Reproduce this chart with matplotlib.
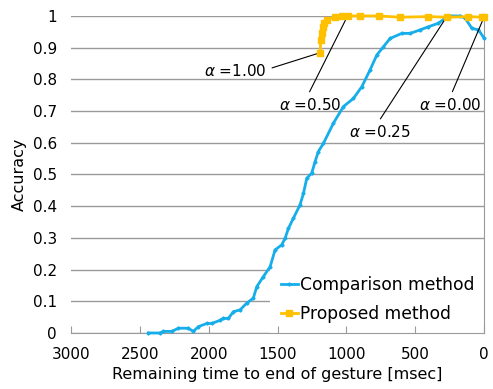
import numpy as np
import matplotlib
matplotlib.use('Agg')
import matplotlib.pyplot as plt

# comparison method (blue), remaining time [msec] vs accuracy
comp_t   = [2438, 2353, 2329, 2268, 2220, 2148, 2112, 2075, 2014, 1978, 1918, 1894,
            1857, 1821, 1772, 1724, 1676, 1651, 1603, 1554, 1518, 1470, 1445, 1421,
            1385, 1337, 1312, 1288, 1252, 1228, 1204, 1167, 1094, 1022, 949, 888,
            828, 779, 731, 683, 598, 537, 465, 404, 332, 283, 247, 174, 138, 89, 41, 0]
comp_acc = [0, 0, 0.005, 0.005, 0.015, 0.015, 0.005, 0.02, 0.03, 0.03, 0.04, 0.046,
            0.046, 0.067, 0.073, 0.094, 0.11, 0.146, 0.178, 0.209, 0.262, 0.278, 0.299, 0.33,
            0.362, 0.404, 0.44, 0.488, 0.504, 0.54, 0.572, 0.598, 0.662, 0.714, 0.74, 0.777,
            0.83, 0.877, 0.903, 0.929, 0.945, 0.945, 0.956, 0.966, 0.977, 0.993, 1.0, 1.0,
            0.993, 0.961, 0.956, 0.93]

# proposed method (orange)
prop_t   = [1191, 1186, 1179, 1172, 1162, 1143, 1082, 1034, 986, 901, 767, 610,
            404, 271, 114, 17, 0]
prop_acc = [0.884, 0.924, 0.945, 0.966, 0.979, 0.987, 0.998, 1.0, 1.0, 1.0, 1.0, 0.996,
            0.998, 0.996, 0.998, 0.996, 0.998]

# alpha labels: text, point on curve, text position
ann_text = [r'$\alpha$ =1.00', r'$\alpha$ =0.50', r'$\alpha$ =0.25', r'$\alpha$ =0.00']
ann_xy   = [(1191, 0.884), (995, 0.997), (283, 0.99), (0, 0.997)]
ann_txt  = [(1809, 0.826), (1264, 0.719), (755, 0.634), (247, 0.719)]
ann_rel  = [(1.05, 0.65), (0.45, 1.0), (0.45, 1.0), (0.5, 1.0)]

plt.rcParams['font.family'] = ['DejaVu Sans']

fig = plt.figure(figsize=(4.93, 3.89), dpi=100)
ax = fig.add_axes([0.144, 0.144, 0.838, 0.815])

ax.plot(comp_t, comp_acc, color='#16AEEA', lw=2, marker='D', ms=1.6,
        label='Comparison method', clip_on=False, zorder=3)
ax.plot(prop_t, prop_acc, color='#FFC000', lw=2, marker='s', ms=4,
        label='Proposed method', clip_on=False, zorder=4)

for t, xy, xt, rp in zip(ann_text, ann_xy, ann_txt, ann_rel):
    ax.annotate(t, xy=xy, xytext=xt, ha='center', va='center', fontsize=11,
                arrowprops=dict(arrowstyle='-', color='black', lw=0.8,
                                relpos=rp, shrinkA=2, shrinkB=0))

ax.set_xlim(3000, 0)
ax.set_ylim(0, 1)
ax.set_xticks(np.arange(0, 3001, 500))
ax.set_yticks(np.arange(0, 1.01, 0.1))
ax.set_yticklabels(['0', '0.1', '0.2', '0.3', '0.4', '0.5', '0.6', '0.7', '0.8', '0.9', '1'])
ax.yaxis.grid(True, color='#9a9a9a', lw=1)
ax.set_axisbelow(True)
ax.xaxis.set_zorder(2.5)  # x ticks above the legend box

for s in ['left', 'top']:
    ax.spines[s].set_visible(False)
for s in ['bottom', 'right']:
    ax.spines[s].set_color('#9a9a9a')
ax.tick_params(axis='y', length=0, labelsize=11, pad=10)
ax.tick_params(axis='x', direction='in', length=5, color='#9a9a9a', labelsize=11, pad=10)

ax.set_xlabel('Remaining time to end of gesture [msec]', fontsize=11.5, labelpad=4)
ax.set_ylabel('Accuracy', fontsize=11.5, labelpad=4)

leg = ax.legend(loc='lower right', fontsize=12.3, frameon=True, framealpha=1,
                edgecolor='none', borderaxespad=0, handlelength=1.0,
                handletextpad=0.1, labelspacing=0.65, borderpad=0.6)
leg.get_frame().set_boxstyle('square', pad=0)
leg.set_zorder(2.4)

fig.savefig('out.png', dpi=100)
